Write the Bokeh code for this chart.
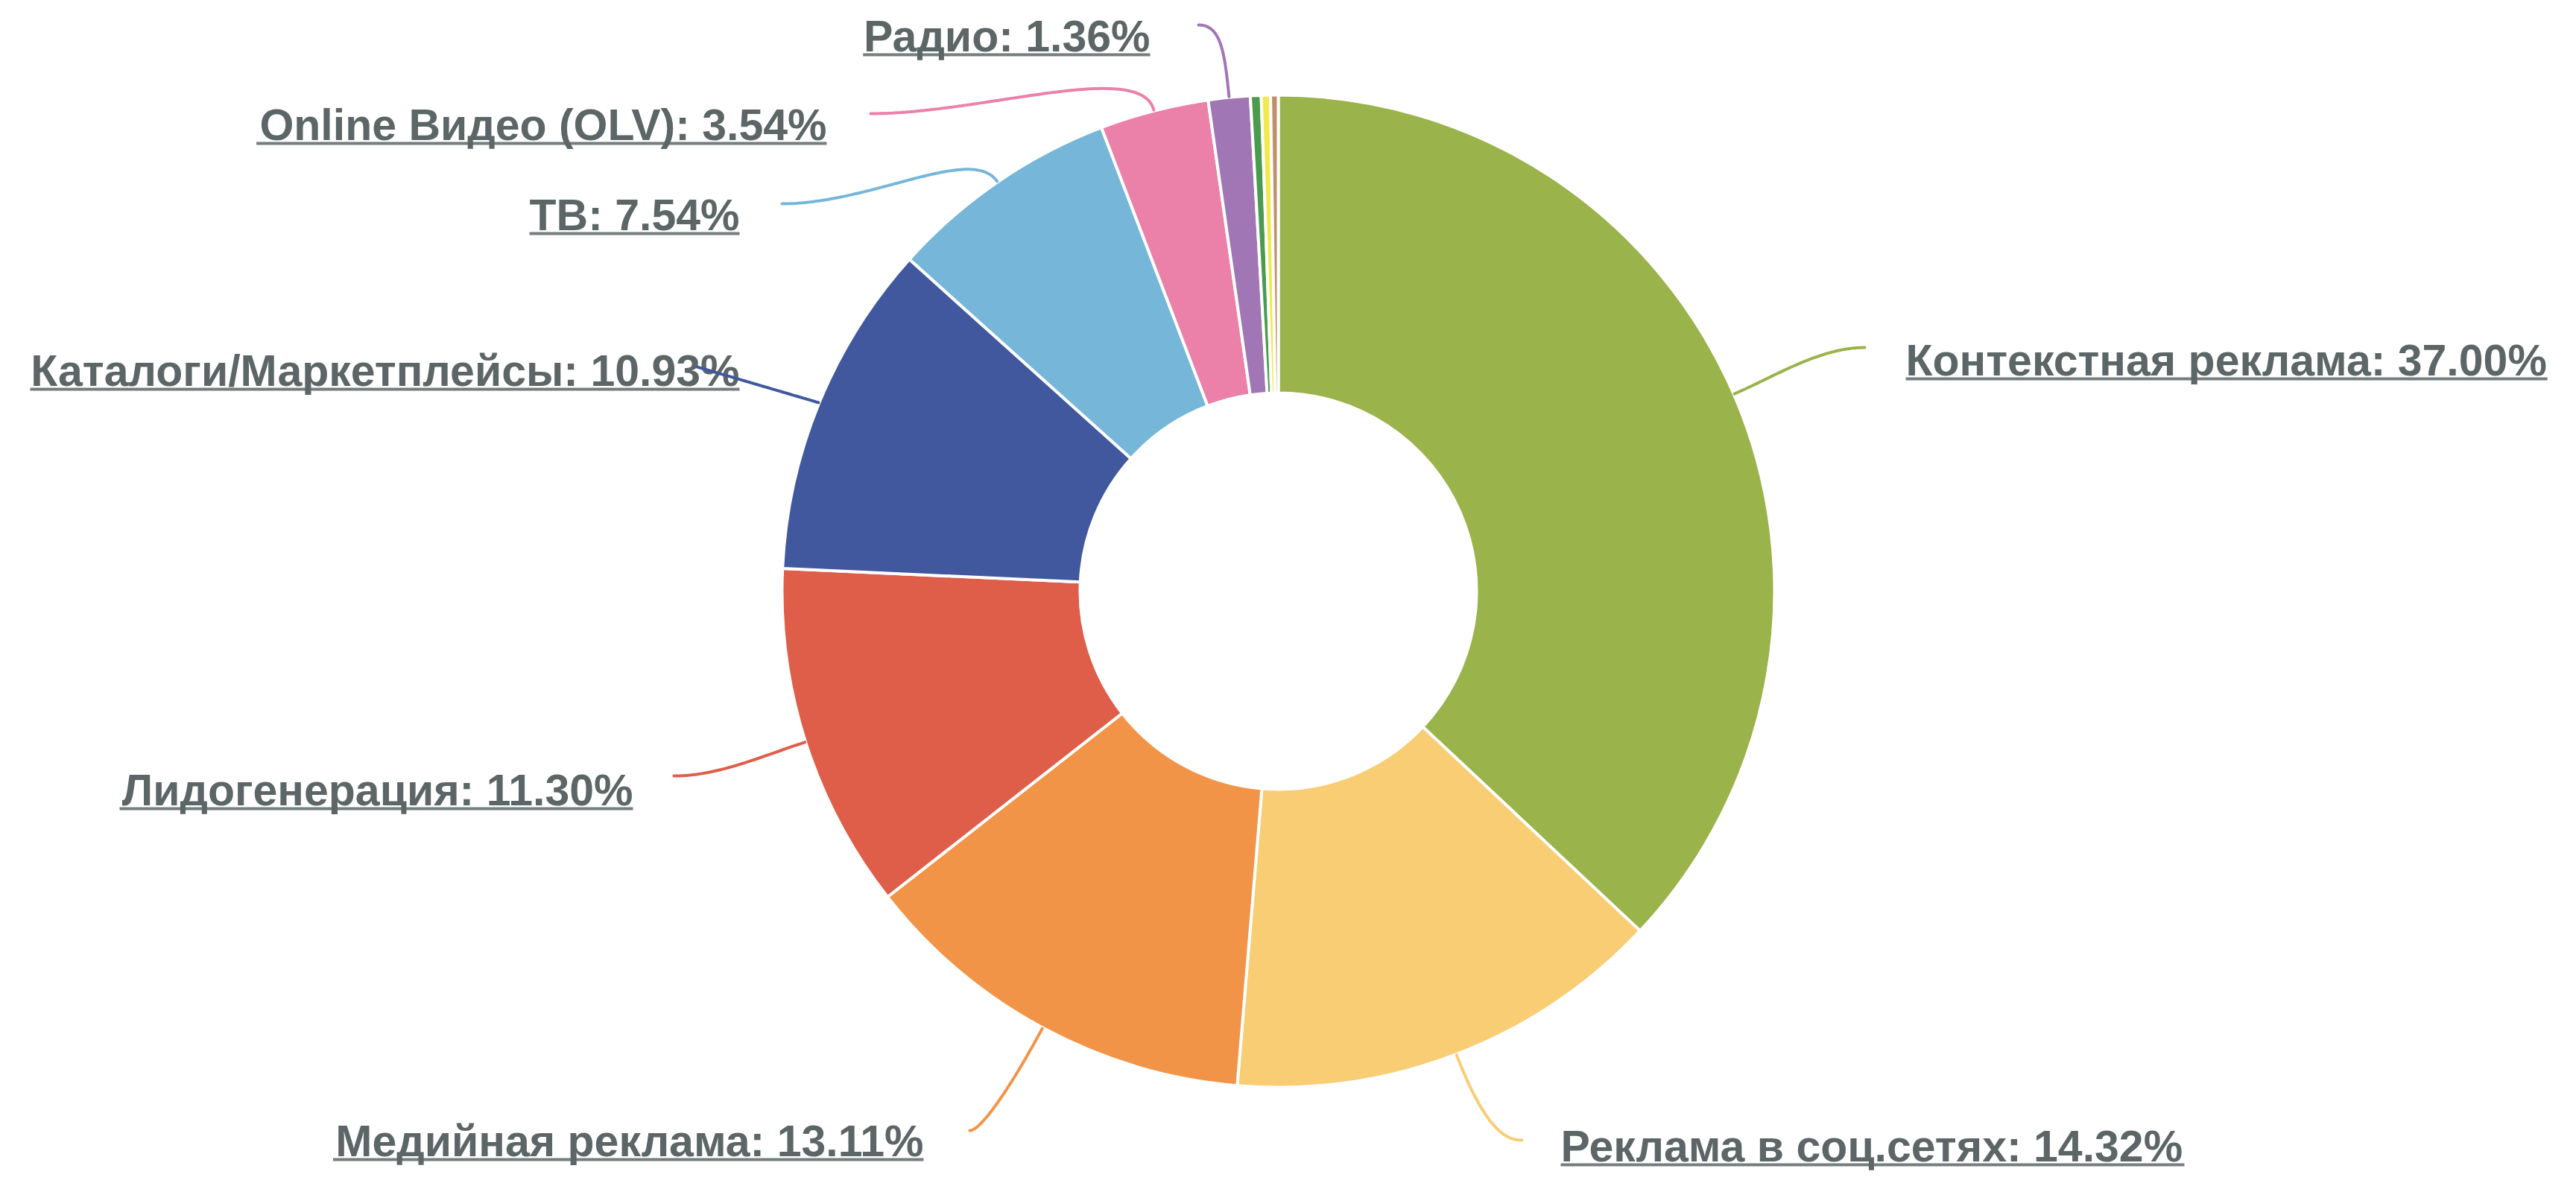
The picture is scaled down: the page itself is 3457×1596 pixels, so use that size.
import math, struct, glob
import numpy as np
from bokeh.plotting import figure
from bokeh.models import Range1d, ColumnDataSource
from bokeh.embed import file_html
from bokeh.resources import INLINE
from bokeh.core.properties import value

# ---------------- data ----------------
categories = ["Контекстная реклама", "Реклама в соц.сетях", "Медийная реклама",
              "Лидогенерация", "Каталоги/Маркетплейсы", "ТВ",
              "Online Видео (OLV)", "Радио", "Прочее 1", "Прочее 2", "Прочее 3"]
shares = [37.00, 14.32, 13.11, 11.30, 10.93, 7.54, 3.54, 1.36, 0.35, 0.30, 0.25]
colors = ["#9AB34B", "#F8CD74", "#F29447", "#DE5E4A", "#41589E", "#76B6D9",
          "#EB80A9", "#A176B4", "#4B9B4F", "#F1E94D", "#C08F6E"]
labeled = [True, True, True, True, True, True, True, True, False, False, False]

# ---------------- layout (reference pixel coords, y down) ----------------
W, H = 3441, 1580
CX, CY = 1715, 793
R_OUT, R_IN = 666, 266
FONT = "Liberation Sans"
FSIZE = 59
TEXT_DY = 16          # compensation of the renderer's baseline placement
TXT = "#5D6667"
# per labeled slice: connector end, side (+1 label right, -1 left), a (radial ctrl), b (horizontal ctrl),
# label anchor x, baseline y
lay = [
    dict(end=(2502, 466), side=1, a=60, b=60, lx=2557, by=499),
    dict(end=(2042, 1530), side=1, a=110, b=20, lx=2094, by=1554),
    dict(end=(1301, 1517), side=-1, a=90, b=15, lx=1239, by=1547),
    dict(end=(904, 1041), side=-1, a=60, b=60, lx=849, by=1076),
    dict(end=(935, 492), side=-1, a=0, b=0, lx=992, by=513),
    dict(end=(1049, 273), side=-1, a=60, b=120, lx=992, by=304),
    dict(end=(1168, 152), side=-1, a=70, b=150, lx=1109, by=183),
    dict(end=(1608, 33), side=-1, a=60, b=30, lx=1543, by=64),
]


def Y(yref):
    return 1596 - yref


# ---------------- text width from the font file ----------------
def make_width_fn():
    paths = glob.glob("/usr/share/fonts/**/LiberationSans-Bold.ttf", recursive=True)
    if not paths:
        return lambda s, size: 0.58 * size * len(s)
    data = open(paths[0], "rb").read()
    nt = struct.unpack(">H", data[4:6])[0]
    tabs = {}
    for i in range(nt):
        tag, cs, off, ln = struct.unpack(">4sIII", data[12 + 16 * i:28 + 16 * i])
        tabs[tag.decode("latin1")] = off
    upem = struct.unpack(">H", data[tabs["head"] + 18:tabs["head"] + 20])[0]
    numH = struct.unpack(">H", data[tabs["hhea"] + 34:tabs["hhea"] + 36])[0]
    hm = tabs["hmtx"]
    adv = [struct.unpack(">H", data[hm + 4 * i:hm + 4 * i + 2])[0] for i in range(numH)]
    cm = tabs["cmap"]
    nsub = struct.unpack(">H", data[cm + 2:cm + 4])[0]
    o = None
    for i in range(nsub):
        pid, eid, off = struct.unpack(">HHI", data[cm + 4 + 8 * i:cm + 12 + 8 * i])
        fmt = struct.unpack(">H", data[cm + off:cm + off + 2])[0]
        if fmt == 4 and pid in (0, 3):
            o = cm + off
            break
    if o is None:
        return lambda s, size: 0.58 * size * len(s)
    sx2 = struct.unpack(">H", data[o + 6:o + 8])[0]
    n = sx2 // 2
    ends = struct.unpack(">%dH" % n, data[o + 14:o + 14 + sx2])
    starts = struct.unpack(">%dH" % n, data[o + 16 + sx2:o + 16 + 2 * sx2])
    deltas = struct.unpack(">%dh" % n, data[o + 16 + 2 * sx2:o + 16 + 3 * sx2])
    rp = o + 16 + 3 * sx2
    roffs = struct.unpack(">%dH" % n, data[rp:rp + sx2])

    def gid(c):
        for i in range(n):
            if ends[i] >= c:
                if starts[i] > c:
                    return 0
                if roffs[i] == 0:
                    return (c + deltas[i]) & 0xFFFF
                addr = rp + 2 * i + roffs[i] + 2 * (c - starts[i])
                g = struct.unpack(">H", data[addr:addr + 2])[0]
                return (g + deltas[i]) & 0xFFFF if g else 0
        return 0

    def width(s, size):
        return sum(adv[min(gid(ord(ch)), numH - 1)] for ch in s) * size / upem

    return width


text_width = make_width_fn()

# ---------------- figure ----------------
p = figure(width=W, height=H, x_range=Range1d(0, W), y_range=Range1d(1596 - H, 1596),
           output_backend="svg", toolbar_location=None, min_border=0)
p.axis.visible = False
p.grid.visible = False
p.outline_line_color = None
p.background_fill_color = "white"

total = sum(shares)
cum = np.concatenate([[0], np.cumsum(shares)]) / total
starts_a = [math.pi / 2 - 2 * math.pi * c for c in cum[:-1]]
ends_a = [math.pi / 2 - 2 * math.pi * c for c in cum[1:]]
src = ColumnDataSource(dict(x=[CX] * len(shares), y=[Y(CY)] * len(shares),
                            s=starts_a, e=ends_a, c=colors))
p.annular_wedge(x="x", y="y", inner_radius=R_IN, outer_radius=R_OUT, start_angle="s",
                end_angle="e", direction="clock", fill_color="c", line_color="white",
                line_width=4, source=src)

# labels, underlines, connectors
tx, ty, tt, ta = [], [], [], []
ul_l, ul_r, ul_t, ul_b = [], [], [], []
cxs, cys, ccol = [], [], []
k = 0
for i, name in enumerate(categories):
    if not labeled[i]:
        continue
    L = lay[k]
    k += 1
    label = f"{name}: {shares[i]:.2f}%"
    wdt = text_width(label, FSIZE)
    if L["side"] > 0:
        x0, x1 = L["lx"], L["lx"] + wdt
        ta.append("left")
    else:
        x0, x1 = L["lx"] - wdt, L["lx"]
        ta.append("right")
    tx.append(L["lx"]); ty.append(Y(L["by"] - TEXT_DY)); tt.append(label)
    ul_l.append(x0); ul_r.append(x1); ul_t.append(Y(L["by"] + 7)); ul_b.append(Y(L["by"] + 11))
    # connector (cubic bezier, leaves radially, arrives horizontally)
    mid = 2 * math.pi * (cum[i] + cum[i + 1]) / 2
    d = np.array([math.sin(mid), -math.cos(mid)])
    P0 = np.array([CX, CY]) + d * (R_OUT + 1)
    E = np.array(L["end"], dtype=float)
    C1 = P0 + d * L["a"]
    C2 = E - np.array([L["side"] * L["b"], 0.0])
    t = np.linspace(0, 1, 80)[:, None]
    pts = (1 - t) ** 3 * P0 + 3 * (1 - t) ** 2 * t * C1 + 3 * (1 - t) * t ** 2 * C2 + t ** 3 * E
    cxs.append(list(pts[:, 0])); cys.append([Y(v) for v in pts[:, 1]]); ccol.append(colors[i])

p.quad(left=ul_l, right=ul_r, top=ul_t, bottom=ul_b, fill_color=TXT, line_color=None, fill_alpha=0.85)
p.text(x=tx, y=ty, text=tt, text_align=ta, text_baseline="alphabetic",
       text_font=value(FONT), text_font_style="bold", text_font_size=f"{FSIZE}px", text_color=TXT)
p.multi_line(xs=cxs, ys=cys, line_color=ccol, line_width=4, line_cap="round")

open("out.html", "w").write(file_html(p, INLINE))
